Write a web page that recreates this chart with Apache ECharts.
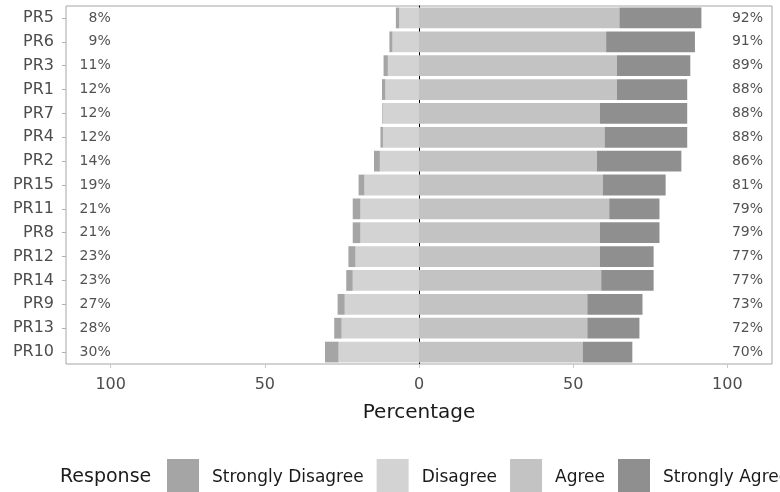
<!DOCTYPE html>
<html>
<head>
<meta charset="utf-8">
<script src="https://cdn.jsdelivr.net/npm/echarts@6/dist/echarts.min.js"></script>
<style>
html,body{margin:0;padding:0;background:#fff;}
#chart{width:780px;height:492px;}
</style>
</head>
<body>
<div id="chart"></div>
<script>
const categories = ['PR5','PR6','PR3','PR1','PR7','PR4','PR2','PR15','PR11','PR8','PR12','PR14','PR9','PR13','PR10'];
const stronglyDisagree = [1.1, 1.0, 1.4, 1.1, 0.2, 0.8, 1.9, 1.9, 2.5, 2.5, 2.3, 2.1, 2.3, 2.4, 4.4];
const disagree = [6.4, 8.6, 10.1, 10.9, 11.8, 11.7, 12.7, 17.7, 19.0, 19.0, 20.6, 21.5, 24.1, 25.1, 26.1];
const agree = [65.0, 60.7, 64.2, 64.2, 58.7, 60.2, 57.7, 59.6, 61.7, 58.7, 58.7, 59.1, 54.6, 54.6, 53.1];
const stronglyAgree = [26.6, 28.8, 23.8, 22.8, 28.3, 26.8, 27.4, 20.4, 16.3, 19.3, 17.4, 17.0, 17.9, 16.9, 16.1];
const leftPct = [8, 9, 11, 12, 12, 12, 14, 19, 21, 21, 23, 23, 27, 28, 30];
const rightPct = [92, 91, 89, 88, 88, 88, 86, 81, 79, 79, 77, 77, 73, 72, 70];
const xTicks = [-100, -50, 0, 50, 100];
const responses = ['Strongly Disagree', 'Disagree', 'Agree', 'Strongly Agree'];

const FONT = 'DejaVu Sans';
const colors = {
  'Strongly Disagree': '#a5a5a5',
  'Disagree': '#d3d3d3',
  'Agree': '#c3c3c3',
  'Strongly Agree': '#8f8f8f'
};

const chart = echarts.init(document.getElementById('chart'));
const barCommon = { type: 'bar', stack: 'total', barCategoryGap: '13%', silent: true, z: 5 };

chart.setOption({
  animation: false,
  backgroundColor: '#fff',
  textStyle: { fontFamily: FONT },
  grid: { left: 66, right: 8, top: 6, bottom: 128, show: true, borderColor: '#a6a6a6', borderWidth: 1, backgroundColor: 'transparent' },
  xAxis: {
    type: 'value', min: -114.5, max: 114.5,
    axisLine: { show: false, onZero: false },
    splitLine: { show: false },
    axisTick: { show: true, customValues: xTicks, length: 4, lineStyle: { color: '#c8c8c8' } },
    axisLabel: { customValues: xTicks, formatter: v => String(Math.abs(v)), fontSize: 16, color: '#4d4d4d', margin: 13, fontFamily: FONT },
    name: 'Percentage', nameLocation: 'middle', nameGap: 39,
    nameTextStyle: { fontSize: 20, color: '#1a1a1a', fontFamily: FONT }
  },
  yAxis: [{
    type: 'category', data: categories, inverse: true,
    axisLine: { show: false, onZero: false },
    axisTick: { show: true, alignWithLabel: true, length: 4, lineStyle: { color: '#b0b0b0' } },
    axisLabel: { fontSize: 16, color: '#4d4d4d', margin: 12, fontFamily: FONT },
    splitLine: { show: false }
  }, {
    type: 'value', min: 0, max: 1, position: 'left', z: 0,
    axisLine: { show: true, onZero: true, lineStyle: { color: '#000', width: 1 } },
    axisTick: { show: false }, axisLabel: { show: false }, splitLine: { show: false }
  }],
  legend: {
    data: responses,
    left: 167, top: 459, width: 1200, padding: 0,
    itemWidth: 32, itemHeight: 38, itemGap: 13,
    icon: 'rect',
    textStyle: { fontSize: 17, color: '#1a1a1a', fontFamily: FONT, padding: [0, 0, 0, 8] },
    selectedMode: false
  },
  graphic: [{
    type: 'text', left: 60, top: 468,
    style: { text: 'Response', fontSize: 19, fill: '#1a1a1a', fontFamily: FONT }
  }],
  series: [
    Object.assign({}, barCommon, { name: 'Disagree', data: disagree.map(v => -v), itemStyle: { color: colors['Disagree'] } }),
    Object.assign({}, barCommon, { name: 'Strongly Disagree', data: stronglyDisagree.map(v => -v), itemStyle: { color: colors['Strongly Disagree'] } }),
    Object.assign({}, barCommon, { name: 'Agree', data: agree, itemStyle: { color: colors['Agree'] } }),
    Object.assign({}, barCommon, { name: 'Strongly Agree', data: stronglyAgree, itemStyle: { color: colors['Strongly Agree'] } }),
    {
      type: 'scatter', silent: true, symbolSize: 0,
      data: categories.map((c, i) => [-100, c, leftPct[i]]),
      label: { show: true, position: 'left', distance: 0, formatter: p => p.value[2] + '%', fontSize: 14, color: '#262626', fontFamily: FONT }
    },
    {
      type: 'scatter', silent: true, symbolSize: 0,
      data: categories.map((c, i) => [101.5, c, rightPct[i]]),
      label: { show: true, position: 'right', distance: 0, formatter: p => p.value[2] + '%', fontSize: 14, color: '#262626', fontFamily: FONT }
    }
  ]
});
</script>
</body>
</html>
